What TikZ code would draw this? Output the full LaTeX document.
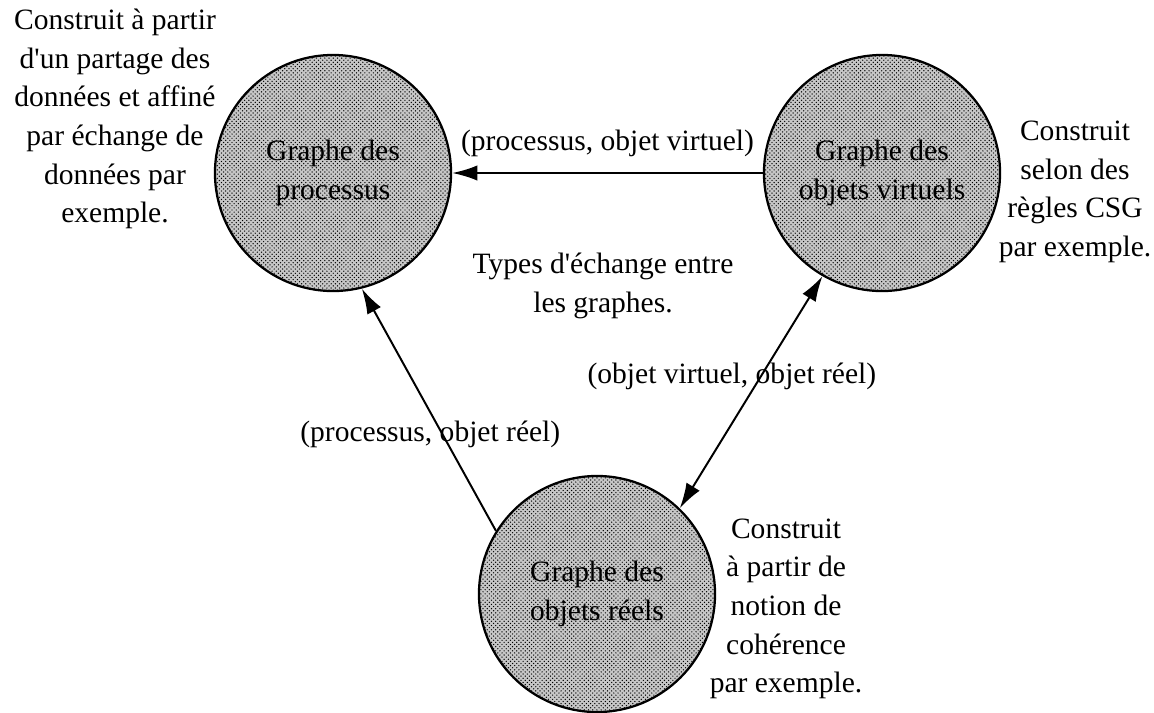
\documentclass[tikz,border=0pt]{standalone}
\usepackage{fontspec}
\setmainfont{Liberation Serif}
\usetikzlibrary{arrows.meta, patterns}

\begin{document}
\begin{tikzpicture}[x=0.025cm, y=-0.025cm]
\tikzstyle{graphe}=[draw, circle, line width=1.6pt, minimum size=5.9cm, inner sep=0pt, align=center, preaction={fill=black!22}, pattern=crosshatch dots, font=\fontsize{21}{28}\selectfont]
\tikzstyle{fleche}=[draw, -{Latex[length=18pt, width=11pt]}, line width=1.4pt]
\tikzstyle{note}=[align=center, inner sep=0pt, font=\fontsize{21}{27.5}\selectfont]

\def \ytop {173}

\useasboundingbox (0,0) rectangle (1154,712);

\node[graphe]	(processus) at	(333,	\ytop)	{Graphe des\\processus};
\node[graphe]	(virtuels) at	(882,	\ytop)	{Graphe des\\objets virtuels};
\node[graphe]	(reels) at		(597,	594)	{Graphe des\\objets réels};

\node[note]		(notep) at		(115,	119)	{Construit à partir\\d\textquotesingle un partage des\\données et affiné\\par échange de\\données par\\exemple.};
\node[note]		(notev) at		(1075,	192)	{Construit\\selon des\\règles CSG\\par exemple.};
\node[note]		(noter) at		(786,	609)	{Construit\\à partir de\\notion de\\cohérence\\par exemple.};
\node[note]		(types) at		(603,	286)	{Types d\textquotesingle échange entre\\les graphes.};

\path[fleche] (virtuels) -- node[note, above=11pt]{(processus, objet virtuel)} (processus);
\path[fleche] (reels.148) -- node[note, pos=0.4, xshift=-0.3cm]{(processus, objet réel)} (processus.284);
\path[fleche, {Latex[length=18pt, width=11pt]}-{Latex[length=18pt, width=11pt]}] (reels.46) -- node[note, pos=0.57, xshift=-0.73cm]{(objet virtuel, objet réel)} (virtuels.240);

\end{tikzpicture}
\end{document}
